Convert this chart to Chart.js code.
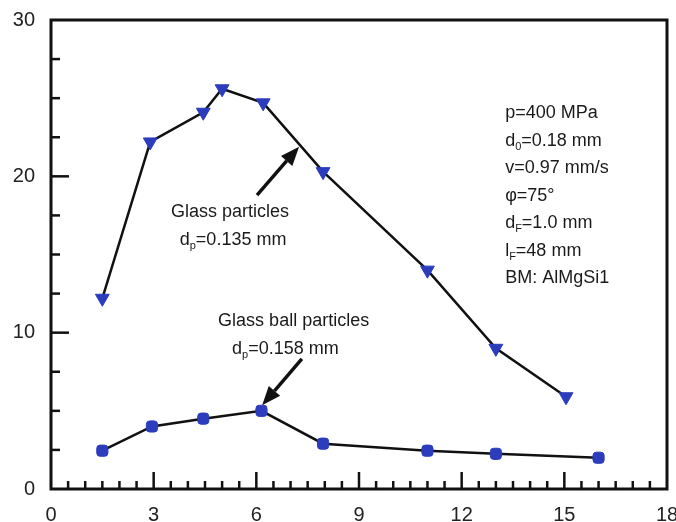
<!DOCTYPE html>
<html><head><meta charset="utf-8">
<script src="https://cdn.jsdelivr.net/npm/chart.js@4/dist/chart.umd.min.js"></script>
<style>html,body{margin:0;padding:0;background:#fff}#wrap{width:676px;height:522px}</style>
</head><body><div id="wrap"><canvas id="c" width="676" height="522"></canvas></div>
<script>
// ---- data ----
const glassX = [1.5, 2.9, 4.45, 5.0, 6.2, 7.95, 11.0, 13.0, 15.05];
const glassY = [12.2, 22.2, 24.1, 25.6, 24.7, 20.3, 14.0, 9.0, 5.9];
const ballX  = [1.5, 2.95, 4.45, 6.15, 7.95, 11.0, 13.0, 16.0];
const ballY  = [2.45, 4.0, 4.5, 5.0, 2.9, 2.45, 2.25, 2.0];
const xTickLabels = [0, 3, 6, 9, 12, 15, 18];
const yTickLabels = [0, 10, 20, 30];

// annotation texts
const infoLines = [
  [["p=400 MPa"]],
  [["d"], ["0", 1], ["=0.18 mm"]],
  [["v=0.97 mm/s"]],
  [["\u03C6=75\u00B0"]],
  [["d"], ["F", 1], ["=1.0 mm"]],
  [["l"], ["F", 1], ["=48 mm"]],
  [["BM: AlMgSi1"]]
];
const labelGlass = [[["Glass particles"]], [["d"], ["p", 1], ["=0.135 mm"]]];
const labelBall  = [[["Glass ball particles"]], [["d"], ["p", 1], ["=0.158 mm"]]];

const FONT = '"Liberation Sans", Arial, Helvetica, sans-serif';

function richWidth(ctx, segs) {
  let w = 0;
  for (const s of segs) { ctx.font = (s[1] ? '11px ' : '18px ') + FONT; w += ctx.measureText(s[0]).width; }
  return w;
}
function drawRich(ctx, segs, x, y, align) {
  let w = richWidth(ctx, segs);
  let cx = align === 'center' ? x - w / 2 : x;
  ctx.textAlign = 'left'; ctx.textBaseline = 'middle';
  for (const s of segs) {
    ctx.font = (s[1] ? '11px ' : '18px ') + FONT;
    ctx.fillText(s[0], cx, s[1] ? y + 6 : y);
    cx += ctx.measureText(s[0]).width;
  }
}
function arrow(ctx, x1, y1, x2, y2) {
  const ang = Math.atan2(y2 - y1, x2 - x1);
  const hl = 19, hw = 7.5;
  const bx = x2 - Math.cos(ang) * hl, by = y2 - Math.sin(ang) * hl;
  ctx.beginPath(); ctx.moveTo(x1, y1); ctx.lineTo(bx, by);
  ctx.lineWidth = 3.5; ctx.strokeStyle = '#111'; ctx.stroke();
  ctx.beginPath();
  ctx.moveTo(x2, y2);
  ctx.lineTo(bx + Math.sin(ang) * hw, by - Math.cos(ang) * hw);
  ctx.lineTo(bx - Math.sin(ang) * hw, by + Math.cos(ang) * hw);
  ctx.closePath(); ctx.fillStyle = '#111'; ctx.fill();
}

const decor = {
  id: 'decor',
  afterDatasetsDraw(chart) {
    const { ctx, chartArea: a, scales: { x, y } } = chart;
    ctx.save();
    ctx.strokeStyle = '#111'; ctx.lineCap = 'butt';
    // frame
    ctx.lineWidth = 3;
    ctx.strokeRect(a.left, a.top, a.right - a.left, a.bottom - a.top);
    // inward ticks, x
    ctx.lineWidth = 2.5;
    for (let v = 0.5; v < 18; v += 0.5) {
      const px = x.getPixelForValue(v);
      const major = Math.abs(v % 3) < 1e-6;
      ctx.beginPath(); ctx.moveTo(px, a.bottom); ctx.lineTo(px, a.bottom - (major ? 17 : 8)); ctx.stroke();
    }
    // inward ticks, y
    for (let v = 2.5; v < 30; v += 2.5) {
      const py = y.getPixelForValue(v);
      const major = Math.abs(v % 10) < 1e-6;
      ctx.beginPath(); ctx.moveTo(a.left, py); ctx.lineTo(a.left + (major ? 18 : 9), py); ctx.stroke();
    }
    // arrows
    arrow(ctx, x.getPixelForValue(6.02), y.getPixelForValue(18.8), x.getPixelForValue(7.25), y.getPixelForValue(21.9));
    arrow(ctx, x.getPixelForValue(7.33), y.getPixelForValue(8.33), x.getPixelForValue(6.17), y.getPixelForValue(5.35));
    // texts
    ctx.fillStyle = '#1a1a1a';
    drawRich(ctx, labelGlass[0], x.getPixelForValue(5.23), y.getPixelForValue(17.69), 'center');
    drawRich(ctx, labelGlass[1], x.getPixelForValue(5.32), y.getPixelForValue(15.9), 'center');
    drawRich(ctx, labelBall[0], x.getPixelForValue(7.09), y.getPixelForValue(10.77), 'center');
    drawRich(ctx, labelBall[1], x.getPixelForValue(6.85), y.getPixelForValue(8.97), 'center');
    const ix = x.getPixelForValue(13.27), iy = y.getPixelForValue(24.04);
    infoLines.forEach((ln, i) => drawRich(ctx, ln, ix, iy + i * 27.5, 'left'));
    ctx.restore();
  }
};

const blue = '#2b3cbd';
new Chart(document.getElementById('c'), {
  type: 'scatter',
  data: {
    datasets: [
      {
        label: 'Glass particles',
        data: glassX.map((v, i) => ({ x: v, y: glassY[i] })),
        showLine: true, borderColor: '#111', borderWidth: 2.5, tension: 0,
        pointStyle: 'triangle', rotation: 180, pointRadius: 8,
        pointBackgroundColor: blue, pointBorderColor: blue, pointBorderWidth: 1
      },
      {
        label: 'Glass ball particles',
        data: ballX.map((v, i) => ({ x: v, y: ballY[i] })),
        showLine: true, borderColor: '#111', borderWidth: 2.5, tension: 0,
        pointStyle: 'rectRounded', pointRadius: 6.5,
        pointBackgroundColor: blue, pointBorderColor: blue, pointBorderWidth: 1
      }
    ]
  },
  options: {
    responsive: false, animation: false, devicePixelRatio: 1,
    layout: { padding: { top: 20, right: 9, left: 0, bottom: 0 } },
    plugins: { legend: { display: false }, tooltip: { enabled: false } },
    scales: {
      x: {
        type: 'linear', min: 0, max: 18,
        afterBuildTicks: s => { s.ticks = xTickLabels.map(v => ({ value: v })); },
        ticks: { font: { size: 20, family: FONT }, color: '#222', padding: 14, maxRotation: 0 },
        grid: { display: false, drawTicks: false }, border: { display: false },
        afterFit: s => { s.height = 33; s.paddingLeft = 0; s.paddingRight = 0; }
      },
      y: {
        type: 'linear', min: 0, max: 30,
        afterBuildTicks: s => { s.ticks = yTickLabels.map(v => ({ value: v })); },
        ticks: { font: { size: 20, family: FONT }, color: '#222', padding: 16 },
        grid: { display: false, drawTicks: false }, border: { display: false },
        afterFit: s => { s.width = 51; s.paddingTop = 0; s.paddingBottom = 0; }
      }
    }
  },
  plugins: [decor]
});
</script></body></html>
